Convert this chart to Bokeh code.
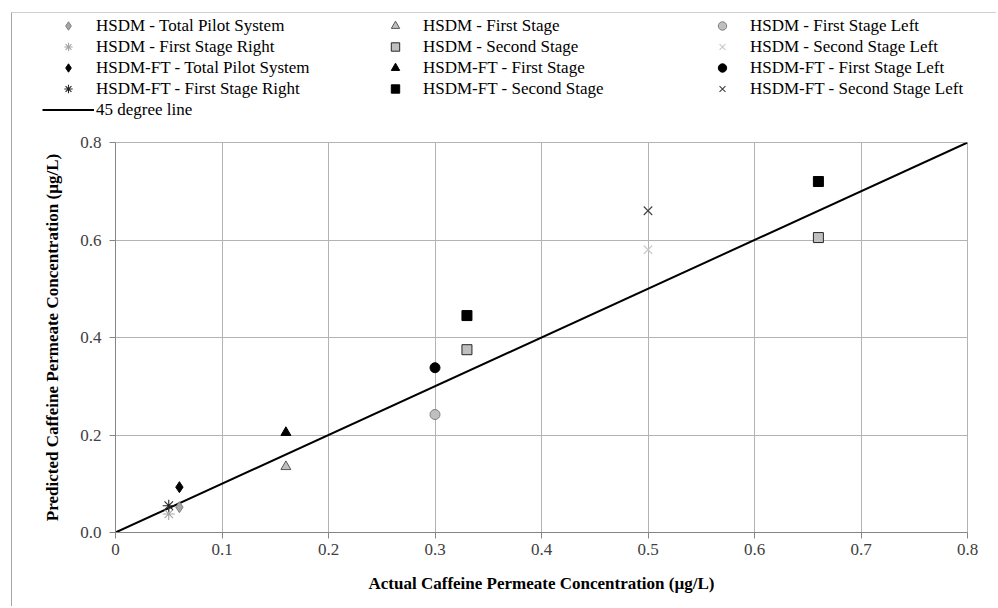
import math
from bokeh.plotting import figure
from bokeh.models import Legend, LegendItem, FixedTicker, Range1d
from bokeh.embed import file_html
from bokeh.resources import INLINE

# ---------------- data ----------------
x_ticks = [0, 0.1, 0.2, 0.3, 0.4, 0.5, 0.6, 0.7, 0.8]
x_tick_labels = ["0", "0.1", "0.2", "0.3", "0.4", "0.5", "0.6", "0.7", "0.8"]
y_ticks = [0, 0.2, 0.4, 0.6, 0.8]
y_tick_labels = ["0.0", "0.2", "0.4", "0.6", "0.8"]

hsdm_total_x = [0.06]
hsdm_total_y = [0.052]
hsdm_first_x = [0.16]
hsdm_first_y = [0.135]
hsdm_first_left_x = [0.30]
hsdm_first_left_y = [0.242]
hsdm_first_right_x = [0.05]
hsdm_first_right_y = [0.038]
hsdm_second_x = [0.33, 0.66]
hsdm_second_y = [0.375, 0.605]
hsdm_second_left_x = [0.50]
hsdm_second_left_y = [0.58]

ft_total_x = [0.06]
ft_total_y = [0.093]
ft_first_x = [0.16]
ft_first_y = [0.205]
ft_first_left_x = [0.30]
ft_first_left_y = [0.338]
ft_first_right_x = [0.05]
ft_first_right_y = [0.055]
ft_second_x = [0.33, 0.66]
ft_second_y = [0.445, 0.72]
ft_second_left_x = [0.50]
ft_second_left_y = [0.66]

line_x = [0, 0.8]
line_y = [0, 0.8]

labels = [
    "HSDM - Total Pilot System", "HSDM - First Stage", "HSDM - First Stage Left",
    "HSDM - First Stage Right", "HSDM - Second Stage", "HSDM - Second Stage Left",
    "HSDM-FT - Total Pilot System", "HSDM-FT - First Stage", "HSDM-FT - First Stage Left",
    "HSDM-FT - First Stage Right", "HSDM-FT - Second Stage", "HSDM-FT - Second Stage Left",
    "45 degree line",
]

FONT = "Liberation Serif"
G_FILL = "#bfbfbf"

series = [
    (hsdm_total_x, hsdm_total_y, dict(marker="diamond", size=11,
                                      fill_color="#a6a6a6", line_color="#7f7f7f")),
    (hsdm_first_x, hsdm_first_y, dict(marker="triangle", size=10, fill_color=G_FILL,
                                      line_color="#595959")),
    (hsdm_first_left_x, hsdm_first_left_y, dict(marker="circle", size=10, fill_color=G_FILL,
                                                line_color="#7f7f7f")),
    (hsdm_first_right_x, hsdm_first_right_y, dict(marker="asterisk", size=12,
                                                  line_color="#a6a6a6", line_width=1.1)),
    (hsdm_second_x, hsdm_second_y, dict(marker="square", size=10, fill_color=G_FILL,
                                        line_color="#262626")),
    (hsdm_second_left_x, hsdm_second_left_y, dict(marker="x", size=12,
                                                  line_color="#c8c8c8", line_width=1.1)),
    (ft_total_x, ft_total_y, dict(marker="diamond", size=11,
                                  fill_color="black", line_color="black")),
    (ft_first_x, ft_first_y, dict(marker="triangle", size=10, fill_color="black",
                                  line_color="black")),
    (ft_first_left_x, ft_first_left_y, dict(marker="circle", size=10, fill_color="black",
                                            line_color="black")),
    (ft_first_right_x, ft_first_right_y, dict(marker="asterisk", size=12,
                                              line_color="#262626", line_width=1.1)),
    (ft_second_x, ft_second_y, dict(marker="square", size=10, fill_color="black",
                                    line_color="black")),
    (ft_second_left_x, ft_second_left_y, dict(marker="x", size=12,
                                              line_color="#404040", line_width=1.1)),
]
line_style = dict(line_color="black", line_width=2)

# ---------------- chart ----------------
p = figure(width=985, height=476, output_backend="svg", toolbar_location=None,
           x_range=Range1d(0, 0.8), y_range=Range1d(0, 0.8),
           min_border_left=103, min_border_right=30, min_border_top=12, min_border_bottom=74,
           background_fill_color="white", border_fill_color="white")
p.margin = (0, 0, 0, 11)
p.styles = {"border-left": "1px solid #a6a6a6"}

grid_color = "#b3b3b3"
p.outline_line_color = grid_color
p.xgrid.grid_line_color = grid_color
p.ygrid.grid_line_color = grid_color
p.xaxis.ticker = FixedTicker(ticks=x_ticks)
p.yaxis.ticker = FixedTicker(ticks=y_ticks)
p.xaxis.major_label_overrides = dict(zip(x_ticks, x_tick_labels))
p.yaxis.major_label_overrides = dict(zip(y_ticks, y_tick_labels))
p.xgrid.ticker = FixedTicker(ticks=x_ticks)
p.ygrid.ticker = FixedTicker(ticks=y_ticks)

for ax in (p.xaxis, p.yaxis):
    ax.axis_line_color = "#868686"
    ax.major_tick_line_color = "#868686"
    ax.major_tick_in = 0
    ax.major_tick_out = 6
    ax.minor_tick_line_color = None
    ax.major_label_text_font = FONT
    ax.major_label_text_font_size = "17px"
    ax.major_label_text_color = "#404040"
    ax.axis_label_text_font = FONT
    ax.axis_label_text_font_size = "17px"
    ax.axis_label_text_font_style = "bold"
    ax.axis_label_text_color = "black"

p.xaxis.axis_label = "Actual Caffeine Permeate Concentration (µg/L)"
p.yaxis.axis_label = "Predicted Caffeine Permeate Concentration (µg/L)"
p.xaxis.major_label_standoff = 5
p.yaxis.major_label_standoff = 8
p.xaxis.axis_label_standoff = 16
p.yaxis.axis_label_standoff = 15

p.line(line_x, line_y, **line_style)
for xs, ys, st in series:
    p.scatter(xs, ys, **st)

# ---------------- legend panel (a separate root so frames are not aligned) ----------------
# its ranges lie away from the data, so its key renderers show only in the legend
lf = figure(width=985, height=118, output_backend="svg", toolbar_location=None,
            x_range=Range1d(5, 6), y_range=Range1d(5, 6),
            x_axis_location=None, y_axis_location=None,
            min_border_left=0, min_border_right=0, min_border_top=0, min_border_bottom=0,
            background_fill_color="white", border_fill_color="white")
lf.margin = (12, 0, 0, 11)
lf.styles = {"border-left": "1px solid #a6a6a6", "border-top": "1px solid #d0d0d0"}
lf.grid.visible = False
lf.outline_line_color = None

keys = [lf.scatter(xs, ys, **st) for xs, ys, st in series]
keys.append(lf.line(line_x, line_y, **line_style))
items = [LegendItem(label=l, renderers=[r]) for l, r in zip(labels, keys)]

legend = Legend(items=items, orientation="horizontal", ncols=3,
                location=(30, 11), margin=0, padding=0, spacing=0,
                glyph_width=52, glyph_height=21, label_height=21, label_width=273,
                label_standoff=2, label_text_font=FONT, label_text_font_size="17px",
                label_text_color="black", background_fill_alpha=0, border_line_color=None)
lf.add_layout(legend, "center")

open("out.html", "w").write(file_html([lf, p], INLINE))
